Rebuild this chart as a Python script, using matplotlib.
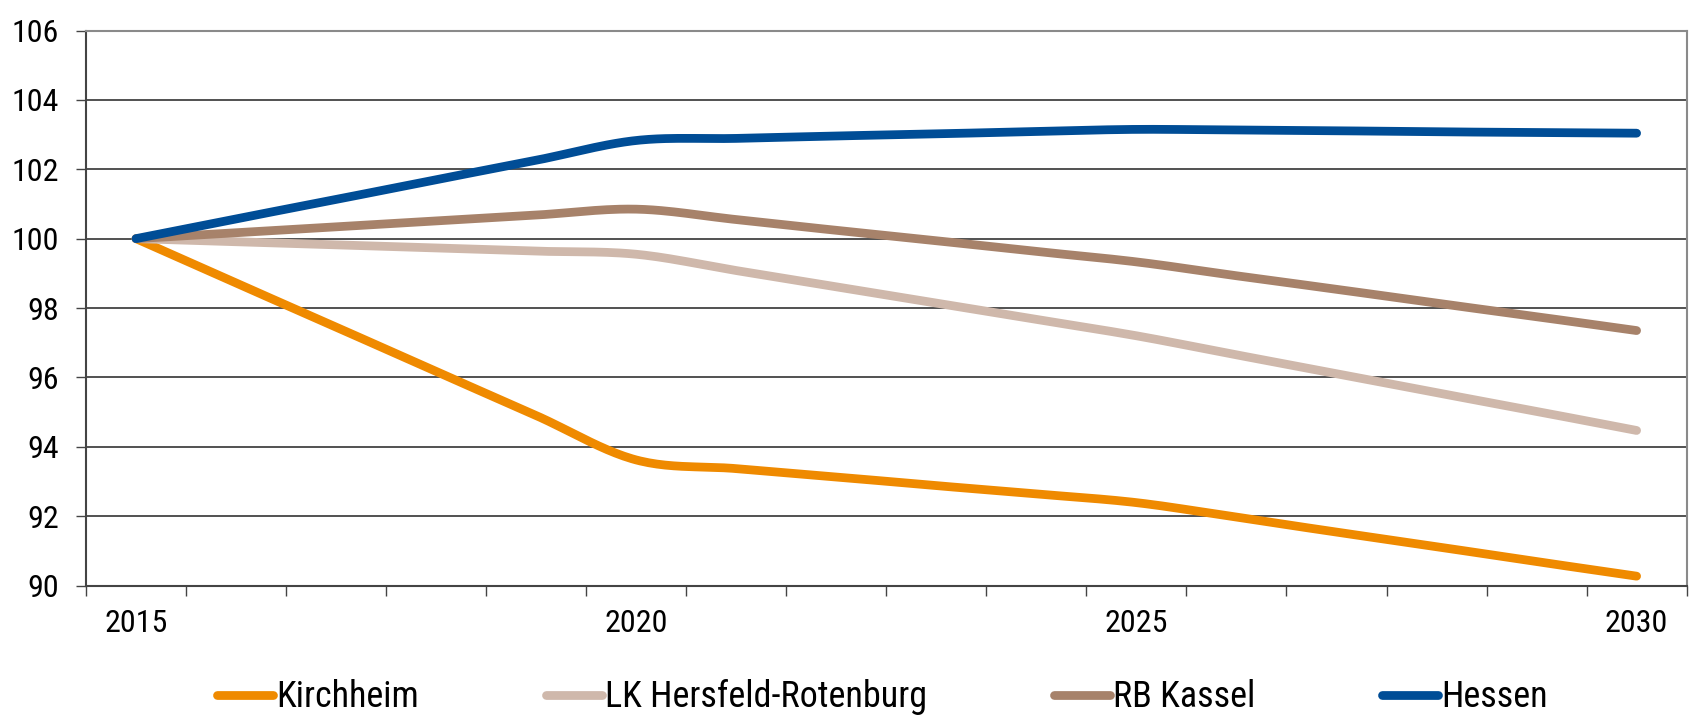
"""
Bevölkerungsentwicklung 2015–2030 (Index 2015 = 100), smoothed line chart.
"""

import matplotlib
matplotlib.use("Agg")
import matplotlib.pyplot as plt
import matplotlib.ticker as mticker
from matplotlib import font_manager
from matplotlib.lines import Line2D
import numpy as np

# ---------------------------------------------------------------------------
# Data
# ---------------------------------------------------------------------------
years = list(range(2015, 2031))
year_labels = ["2015", "2020", "2025", "2030"]

kirchheim = [100.00, 98.72, 97.45, 96.17, 94.90, 93.62, 93.37, 93.13,
             92.88, 92.64, 92.39, 91.97, 91.54, 91.12, 90.69, 90.27]
lk_hersfeld = [100.00, 99.91, 99.82, 99.73, 99.64, 99.55, 99.08, 98.61,
               98.14, 97.67, 97.20, 96.65, 96.11, 95.56, 95.02, 94.47]
rb_kassel = [100.00, 100.17, 100.34, 100.51, 100.68, 100.85, 100.55, 100.24,
             99.94, 99.63, 99.33, 98.93, 98.54, 98.14, 97.75, 97.35]
hessen = [100.00, 100.57, 101.13, 101.70, 102.26, 102.83, 102.89, 102.96,
          103.02, 103.09, 103.15, 103.13, 103.11, 103.08, 103.06, 103.04]

series_names = ["Kirchheim", "LK Hersfeld-Rotenburg", "RB Kassel", "Hessen"]

COLORS = {
    "Kirchheim": "#EF8A00",
    "LK Hersfeld-Rotenburg": "#CFB8AB",
    "RB Kassel": "#A7826A",
    "Hessen": "#004D96",
}

# A narrow face looks closest to the original; fall back to Liberation Sans
_names = {f.name for f in font_manager.fontManager.ttflist}
_narrow = [n for n in ["Liberation Sans Narrow", "Arial Narrow",
                       "Roboto Condensed", "Open Sans Condensed"] if n in _names]
if _narrow:
    plt.rcParams["font.family"] = [_narrow[0], "DejaVu Sans"]
    TICK_SIZE, LEGEND_SIZE = 23, 26
else:
    plt.rcParams["font.family"] = ["Liberation Sans", "DejaVu Sans"]
    TICK_SIZE, LEGEND_SIZE = 19.5, 21.5


def _smooth(x, y, steps=24):
    """Catmull-Rom curve through the points (like Excel's smoothed line)."""
    p = np.column_stack([x, y]).astype(float)
    p = np.vstack([2 * p[0] - p[1], p, 2 * p[-1] - p[-2]])
    t = np.linspace(0, 1, steps, endpoint=False)[:, None]
    out = []
    for i in range(1, len(p) - 2):
        p0, p1, p2, p3 = p[i - 1], p[i], p[i + 1], p[i + 2]
        seg = 0.5 * ((2 * p1) + (-p0 + p2) * t
                     + (2 * p0 - 5 * p1 + 4 * p2 - p3) * t ** 2
                     + (-p0 + 3 * p1 - 3 * p2 + p3) * t ** 3)
        out.append(seg)
    out.append(p[-2][None, :])
    out = np.vstack(out)
    return out[:, 0], out[:, 1]


fig = plt.figure(figsize=(16.9, 7.18), dpi=100)
ax = fig.add_axes([0.0509, 0.1845, 0.9471, 0.773])

x = np.arange(len(years))
data = [kirchheim, lk_hersfeld, rb_kassel, hessen]
for name, values in zip(series_names, data):
    sx, sy = _smooth(x, values)
    ax.plot(sx, sy, color=COLORS[name], lw=6.3, solid_capstyle="round",
            solid_joinstyle="round", zorder=3)

# Axes ranges and ticks
ax.set_xlim(-0.5, len(years) - 0.5)
ax.set_ylim(90, 106)
ax.yaxis.set_major_locator(mticker.MultipleLocator(2))
ax.yaxis.grid(True, color="#222222", lw=1.1, zorder=0)
ax.set_axisbelow(True)

label_pos = [years.index(int(y)) for y in year_labels]
ax.set_xticks(label_pos)
ax.set_xticklabels(year_labels)
ax.set_xticks(np.arange(-0.5, len(years)), minor=True)
ax.tick_params(axis="x", which="major", length=0, pad=17, labelsize=TICK_SIZE)
ax.tick_params(axis="x", which="minor", length=7.2, width=1.0,
               direction="out", color="#444444")
ax.tick_params(axis="y", length=7.2, width=1.0, direction="out",
               color="#444444", pad=12, labelsize=TICK_SIZE)

for side in ["left", "bottom"]:
    ax.spines[side].set_color("#444444")
    ax.spines[side].set_linewidth(1.5)
for side in ["top", "right"]:
    ax.spines[side].set_color("#8a8a8a")
    ax.spines[side].set_linewidth(1.5)

# Legend
handles = [Line2D([], [], color=COLORS[n], lw=6.3, solid_capstyle="round")
           for n in series_names]
fig.legend(handles, series_names, loc="center", bbox_to_anchor=(0.5223, 0.029),
           ncol=4, frameon=False, fontsize=LEGEND_SIZE, handlelength=1.55,
           handletextpad=0.1, columnspacing=3.5, borderaxespad=0)

fig.savefig("out.png", dpi=100, facecolor="white")
plt.close(fig)
